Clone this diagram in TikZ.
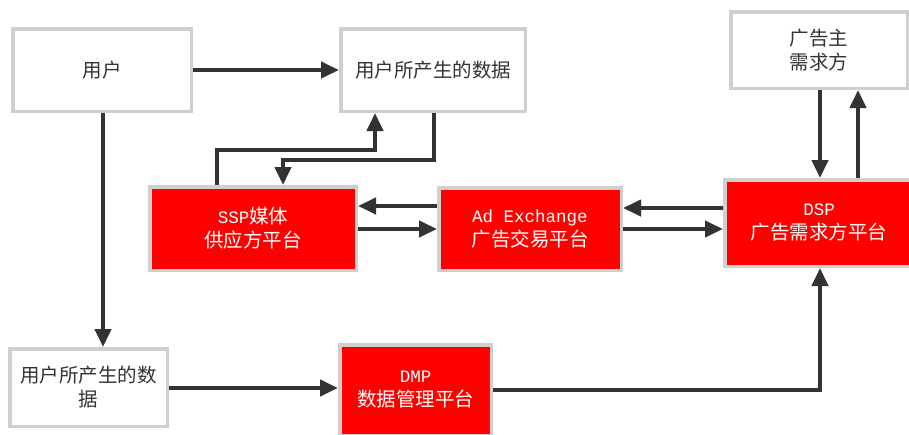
\documentclass[tikz,border=0pt]{standalone}
\usepackage{fontspec}
\setmainfont{Noto Sans CJK SC}
\newfontfamily\monof{Liberation Mono}
\usetikzlibrary{arrows.meta,calc}
\definecolor{linegray}{HTML}{333333}
\definecolor{bordergray}{HTML}{CFCFCF}
\definecolor{boxred}{HTML}{FF0000}
\tikzset{
  wbox/.style={draw=bordergray, line width=3.5pt, fill=white, inner sep=0pt, align=center,
    text=linegray, font=\fontsize{19.5}{24}\selectfont},
  rbox/.style={draw=bordergray, line width=3.5pt, fill=boxred, inner sep=0pt, align=center,
    text=white, font=\fontsize{19.5}{24}\selectfont},
  arr/.style={draw=linegray, line width=4pt, -{Triangle[length=18pt,width=16pt]}},
}
\newcommand{\lat}[1]{{\monof\fontsize{17.5}{24}\selectfont #1}}
\begin{document}
\begin{tikzpicture}[x=1pt,y=-1pt]
\clip (0,0) rectangle (909,434);
\fill[white] (0,0) rectangle (909,434);
\node[wbox, minimum width=178.5pt, minimum height=82.5pt] (user) at (102,70) {用户};
\node[wbox, minimum width=184.5pt, minimum height=82.5pt] (data1) at (433,70) {用户所产生的数据};
\node[wbox, minimum width=176.5pt, minimum height=76.5pt] (adv) at (819,50) {广告主\\需求方};
\node[rbox, minimum width=206.5pt, minimum height=83.5pt] (ssp) at (253,228.5) {\lat{SSP}媒体\\供应方平台};
\node[rbox, minimum width=182.5pt, minimum height=82.5pt] (adx) at (530,229) {\lat{Ad Exchange}\\广告交易平台};
\node[rbox, minimum width=188.5pt, minimum height=86.5pt] (dsp) at (819,223) {\lat{DSP}\\广告需求方平台};
\node[wbox, minimum width=157.5pt, minimum height=77.5pt] (data2) at (88.5,387.5) {用户所产生的数\\据};
\node[rbox, minimum width=151.5pt, minimum height=90.5pt] (dmp) at (415.5,390) {\lat{DMP}\\数据管理平台};

\draw[arr] (user) -- (data1);
\draw[arr] (103,0 |- user.south) -- (103,0 |- data2.north);
\draw[arr] (217,0 |- ssp.north) |- (375,150) -- (375,0 |- data1.south);
\draw[arr] (434,0 |- data1.south) |- (283,160) -- (283,0 |- ssp.north);
\draw[arr] (adx.west |- 0,206) -- (ssp.east |- 0,206);
\draw[arr] (ssp.east |- 0,229) -- (adx.west |- 0,229);
\draw[arr] (dsp.west |- 0,208) -- (adx.east |- 0,208);
\draw[arr] (adx.east |- 0,229) -- (dsp.west |- 0,229);
\draw[arr] (820,0 |- adv.south) -- (820,0 |- dsp.north);
\draw[arr] (858,0 |- dsp.north) -- (858,0 |- adv.south);
\draw[arr] (data2.east |- 0,388) -- (dmp.west |- 0,388);
\draw[arr] (dmp.east |- 0,390) -| (820,0 |- dsp.south);
\end{tikzpicture}
\end{document}
